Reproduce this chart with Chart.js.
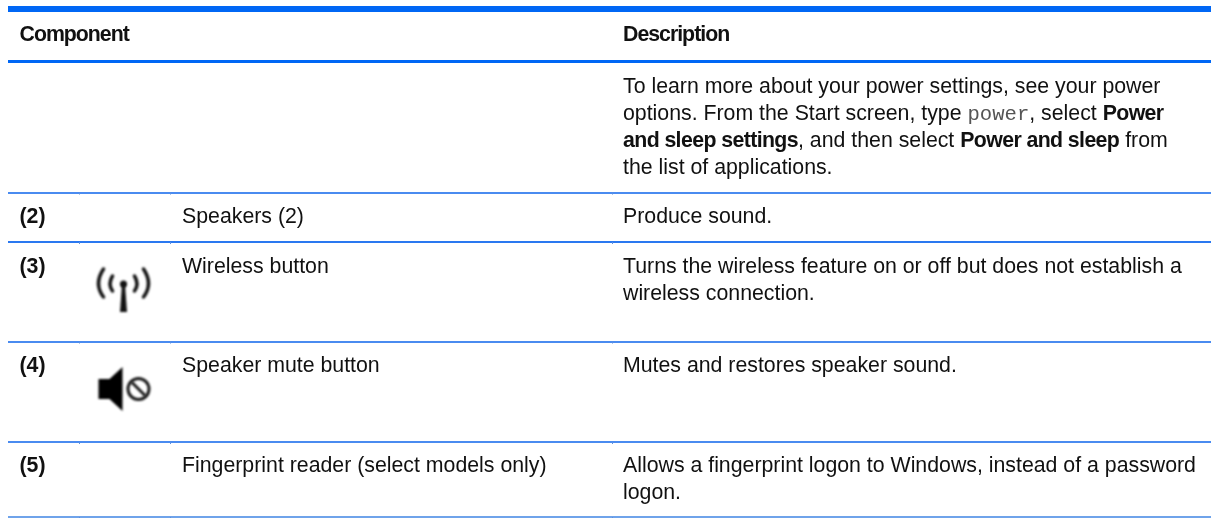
<!DOCTYPE html>
<html>
<head>
<meta charset="utf-8">
<title>Component table</title>
<script src="https://cdn.jsdelivr.net/npm/chart.js@4"></script>
<style>
    html, body { margin: 0; padding: 0; background: #ffffff; }
    canvas { display: block; }
</style>
</head>
<body>
<canvas id="myChart" width="1211" height="518"></canvas>
<script>
    // Table content. **bold** and `mono` mark the inline runs
    const headerLabels = ["Component", "Description"];
    const rowNumbers = ["(2)", "(3)", "(4)", "(5)"];
    const rowNames = ["Speakers (2)", "Wireless button", "Speaker mute button", "Fingerprint reader (select models only)"];
    const rowDescriptions = [
        ["Produce sound."],
        ["Turns the wireless feature on or off but does not establish a", "wireless connection."],
        ["Mutes and restores speaker sound."],
        ["Allows a fingerprint logon to Windows, instead of a password", "logon."]
    ];
    const noteLines = [
        "To learn more about your power settings, see your power",
        "options. From the Start screen, type `power`, select **Power**",
        "**and sleep settings**, and then select **Power and sleep** from",
        "the list of applications."
    ];

    // Values read on the page scale
    const ruleLevels = [9, 61.5, 192.5, 242, 341.5, 442, 517];
    const columnEdges = [79, 170, 612];
    const headerLevel = 41;
    const noteLevel = 93;
    const rowLevels = [223, 273, 372, 472];
    const iconLevels = [284, 389];

    const LINE_STEP = 27;
    const NUMBER_X = 19.5;
    const NAME_X = 182;
    const TEXT_X = 623;
    const ICON_X = 123.5;
    const INK = "#111111";
    const FONT_SIZE = 21.3;

    // Mixed runs on one line, boldSpacing tightens the bold letters like the scan
    function drawRuns(ctx, line, x, y, boldSpacing) {
        const runs = line.split(/(\*\*[^*]+\*\*|`[^`]+`)/).filter(run => run !== "");
        for (const run of runs) {
            let text = run;
            ctx.fillStyle = INK;
            ctx.letterSpacing = "0px";
            ctx.font = FONT_SIZE + "px 'Liberation Sans'";
            if (run.startsWith("**")) {
                text = run.slice(2, -2);
                ctx.font = "bold " + FONT_SIZE + "px 'Liberation Sans'";
                ctx.letterSpacing = boldSpacing + "px";
            } else if (run.startsWith("`")) {
                text = run.slice(1, -1);
                ctx.font = "20.6px 'Liberation Mono'";
                ctx.fillStyle = "#555555";
            }
            ctx.fillText(text, x, y);
            x += ctx.measureText(text).width;
        }
        ctx.letterSpacing = "0px";
    }

    function drawWireless(ctx, x, y) {
        ctx.save();
        ctx.filter = "blur(1px)";
        ctx.strokeStyle = "#111111";
        ctx.fillStyle = "#111111";
        ctx.lineCap = "round";
        ctx.lineWidth = 3.5;
        for (const side of [-1, 1]) {
            ctx.beginPath();
            ctx.moveTo(x + side * 20, y - 15);
            ctx.quadraticCurveTo(x + side * 30, y, x + side * 20, y + 13);
            ctx.stroke();
            ctx.beginPath();
            ctx.moveTo(x + side * 11, y - 8);
            ctx.quadraticCurveTo(x + side * 16, y, x + side * 11, y + 7);
            ctx.stroke();
        }
        ctx.beginPath();
        ctx.arc(x, y, 3.5, 0, Math.PI * 2);
        ctx.fill();
        ctx.beginPath();
        ctx.moveTo(x - 1.5, y);
        ctx.lineTo(x + 1.5, y);
        ctx.lineTo(x + 3.5, y + 28);
        ctx.lineTo(x - 3.5, y + 28);
        ctx.closePath();
        ctx.fill();
        ctx.restore();
    }

    function drawSpeaker(ctx, x, y) {
        ctx.save();
        ctx.filter = "blur(1px)";
        ctx.fillStyle = "#000000";
        ctx.strokeStyle = "#1a1a1a";
        ctx.beginPath();
        ctx.moveTo(x - 25, y - 10);
        ctx.lineTo(x - 14, y - 10);
        ctx.lineTo(x - 1, y - 22);
        ctx.lineTo(x - 1, y + 22);
        ctx.lineTo(x - 14, y + 10);
        ctx.lineTo(x - 25, y + 10);
        ctx.closePath();
        ctx.fill();
        ctx.lineWidth = 3;
        ctx.beginPath();
        ctx.arc(x + 15, y, 10.5, 0, Math.PI * 2);
        ctx.stroke();
        ctx.beginPath();
        ctx.moveTo(x + 8, y - 7);
        ctx.lineTo(x + 22, y + 7);
        ctx.stroke();
        ctx.restore();
    }

    const tablePlugin = {
        id: "tableText",
        afterDraw(chart) {
            const ctx = chart.ctx;
            const yScale = chart.scales.y;
            const xScale = chart.scales.x;
            ctx.save();
            ctx.textBaseline = "alphabetic";
            ctx.textAlign = "left";

            // little notches where the columns meet the rules
            ctx.fillStyle = "#5b8fe0";
            ruleLevels.slice(2).forEach(level => {
                for (const edge of columnEdges) {
                    ctx.fillRect(xScale.getPixelForValue(edge), yScale.getPixelForValue(level), 1, 2);
                }
            });

            // the scan is a little soft
            ctx.filter = "blur(0.35px)";
            drawRuns(ctx, "**" + headerLabels[0] + "**", xScale.getPixelForValue(NUMBER_X), yScale.getPixelForValue(headerLevel), -1);
            drawRuns(ctx, "**" + headerLabels[1] + "**", xScale.getPixelForValue(TEXT_X), yScale.getPixelForValue(headerLevel), -1);

            noteLines.forEach((line, i) => {
                drawRuns(ctx, line, xScale.getPixelForValue(TEXT_X), yScale.getPixelForValue(noteLevel + i * LINE_STEP), -0.6);
            });

            rowLevels.forEach((level, i) => {
                const y = yScale.getPixelForValue(level);
                drawRuns(ctx, "**" + rowNumbers[i] + "**", xScale.getPixelForValue(NUMBER_X), y, 0);
                drawRuns(ctx, rowNames[i], xScale.getPixelForValue(NAME_X), y, 0);
                rowDescriptions[i].forEach((line, j) => {
                    drawRuns(ctx, line, xScale.getPixelForValue(TEXT_X), yScale.getPixelForValue(level + j * LINE_STEP), 0);
                });
            });
            ctx.filter = "none";

            drawWireless(ctx, xScale.getPixelForValue(ICON_X), yScale.getPixelForValue(iconLevels[0]));
            drawSpeaker(ctx, xScale.getPixelForValue(ICON_X), yScale.getPixelForValue(iconLevels[1]));
            ctx.restore();
        }
    };

    const ruleWidths = [6, 3, 2, 2, 2, 2, 2];
    const ruleColors = ["#0067f5", "#0067f5", "#4a8bf0", "#2a78f0", "#4a8bf0", "#4a8bf0", "#6fa3ea"];

    const chart = new Chart(document.getElementById("myChart"), {
        type: "scatter",
        data: { datasets: [{ data: [], pointRadius: 0 }] },
        plugins: [tablePlugin],
        options: {
            responsive: false,
            animation: false,
            devicePixelRatio: 1,
            layout: { padding: { left: 8 } },
            plugins: { legend: { display: false }, tooltip: { enabled: false } },
            scales: {
                x: { type: "linear", display: false, min: 8, max: 1211 },
                y: {
                    type: "linear",
                    min: 0,
                    max: 518,
                    reverse: true,
                    border: { display: false },
                    afterBuildTicks: scale => {
                        scale.ticks = ruleLevels.map(value => ({ value }));
                    },
                    ticks: { display: false, autoSkip: false },
                    grid: {
                        drawTicks: false,
                        lineWidth: ctx => ruleWidths[ctx.index],
                        color: ctx => ruleColors[ctx.index]
                    }
                }
            }
        }
    });
</script>
</body>
</html>
